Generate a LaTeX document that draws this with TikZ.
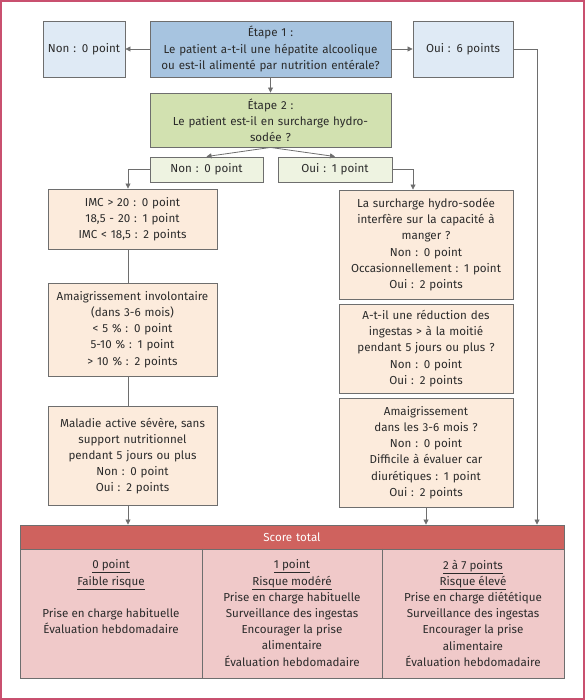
\documentclass[tikz,border=0pt]{standalone}
\usepackage{fontspec}
\setmainfont{Fira Sans}
\usetikzlibrary{arrows.meta,positioning}

\definecolor{framered}{HTML}{C9506F}
\definecolor{boxgray}{HTML}{6E6E6E}
\definecolor{txtgray}{HTML}{2B2B2B}
\definecolor{bluedark}{HTML}{A7C4E0}
\definecolor{bluelight}{HTML}{DFEAF5}
\definecolor{greendark}{HTML}{D2E1B0}
\definecolor{greenlight}{HTML}{EEF3E1}
\definecolor{peach}{HTML}{FCEBDC}
\definecolor{scorehead}{HTML}{CF625E}
\definecolor{scorebody}{HTML}{F0C9C9}

\tikzset{
  box/.style={draw=boxgray, line width=0.9pt, align=center, inner xsep=3pt,
    inner ysep=0pt, text=txtgray, font=\fontsize{11.6}{16.2}\selectfont},
  arr/.style={draw=boxgray, line width=0.8pt, -{Triangle[length=5pt,width=5pt]}},
  link/.style={draw=boxgray, line width=0.8pt},
  scoretext/.style={align=center, inner sep=0pt, text=txtgray,
    font=\fontsize{11.6}{16.2}\selectfont}
}

\begin{document}
\begin{tikzpicture}[x=1pt, y=-1pt]
\useasboundingbox (0,0) rectangle (585,700);
% outer frame
\draw [framered, line width=2pt] (1,1) rectangle (584,699);

% step 1
\node [box, fill=bluedark, text width=235pt, minimum height=56pt] (etape1) at (270.5,49)
  {Étape 1 :\\Le patient a-t-il une hépatite alcoolique\\ou est-il alimenté par nutrition entérale?};
\node [box, fill=bluelight, text width=76pt, minimum height=56pt] (non1) at (84,49) {Non : 0 point};
\node [box, fill=bluelight, text width=94pt, minimum height=56pt] (oui6) at (463,49) {Oui : 6 points};

% step 2
\node [box, fill=greendark, text width=235pt, minimum height=54pt] (etape2) at (270.5,120)
  {Étape 2 :\\Le patient est-il en surcharge hydro-\\sodée ?};
\node [box, fill=greenlight, text width=107pt, minimum height=25pt] (non2) at (206.5,169.5) {Non : 0 point};
\node [box, fill=greenlight, text width=108pt, minimum height=25pt] (oui1) at (335,169.5) {Oui : 1 point};

% left column
\node [box, fill=peach, text width=163pt, minimum height=60pt] (imc) at (132.5,219)
  {IMC > 20 : 0 point\\18,5 - 20 : 1 point\\IMC < 18,5 : 2 points};
\node [box, fill=peach, text width=163pt, minimum height=93pt] (amaig) at (132.5,329.5)
  {Amaigrissement involontaire\\(dans 3-6 mois)\\< 5 \% : 0 point\\5-10 \% : 1 point\\> 10 \% : 2 points};
\node [box, fill=peach, text width=163pt, minimum height=99pt] (maladie) at (132.5,456)
  {Maladie active sévère, sans\\support nutritionnel\\pendant 5 jours ou plus\\Non : 0 point\\Oui : 2 points};

% right column
\node [box, fill=peach, text width=168pt, minimum height=109pt] (surch) at (426,244.5)
  {La surcharge hydro-sodée\\interfère sur la capacité à\\manger ?\\Non : 0 point\\Occasionnellement : 1 point\\Oui : 2 points};
\node [box, fill=peach, text width=168pt, minimum height=89pt] (reduc) at (426,348.5)
  {A-t-il une réduction des\\ingestas > à la moitié\\pendant 5 jours ou plus ?\\Non : 0 point\\Oui : 2 points};
\node [box, fill=peach, text width=168pt, minimum height=109pt] (amaigb) at (426,452.5)
  {Amaigrissement\\dans les 3-6 mois ?\\Non : 0 point\\Difficile à évaluer car\\diurétiques : 1 point\\Oui : 2 points};

% score table
\node [box, fill=scorehead, text=white, text width=538pt, minimum height=24pt] (head) at (292,537) {Score total};
\node [box, fill=scorebody, text width=176pt, minimum height=129pt] (col1) at (111,613.5) {};
\node [box, fill=scorebody, text width=174pt, minimum height=129pt] (col2) at (292,613.5) {};
\node [box, fill=scorebody, text width=176pt, minimum height=129pt] (col3) at (473,613.5) {};
\draw [boxgray, line width=1.6pt] (col1.north east) -- (col1.south east);
\draw [boxgray, line width=1.6pt] (col2.north east) -- (col2.south east);

\node [scoretext, below=11pt of col1.north] (txt1)
  {\underline{0 point}\\\underline{Faible risque}\\\strut\\Prise en charge habituelle\\Évaluation hebdomadaire};
\node [scoretext, below=11pt of col2.north] (txt2)
  {\underline{1 point}\\\underline{Risque modéré}\\Prise en charge habituelle\\Surveillance des ingestas\\Encourager la prise\\alimentaire\\Évaluation hebdomadaire};
\node [scoretext, below=11pt of col3.north] (txt3)
  {\underline{2 à 7 points}\\\underline{Risque élevé}\\Prise en charge diététique\\Surveillance des ingestas\\Encourager la prise\\alimentaire\\Évaluation hebdomadaire};

% connectors
\draw [arr] (etape1.west) -- (non1.east);
\draw [arr] (etape1.east) -- (oui6.west);
\draw [arr] (etape1.south) -- (etape2.north);
\draw [arr] (etape2.south) -- (non2.north);
\draw [arr] (etape2.south) -- (oui1.north);

\draw [arr] (non2.west) -| ([xshift=-4.5pt]imc.north);
\draw [link] ([xshift=-4.5pt]imc.south) -- ([xshift=-4.5pt]amaig.north);
\draw [link] ([xshift=-4.5pt]amaig.south) -- ([xshift=-4.5pt]maladie.north);
\draw [arr] ([xshift=-4.5pt]maladie.south) -- ([xshift=-4.5pt]maladie.south |- head.north);

\draw [arr] (oui1.east) -| ([xshift=-13pt]surch.north);
\draw [arr] (amaigb.south) -- (amaigb.south |- head.north);

\coordinate (turn) at (537,49);
\draw [arr] (oui6.east) -- (turn) -- (turn |- head.north);
\end{tikzpicture}
\end{document}
